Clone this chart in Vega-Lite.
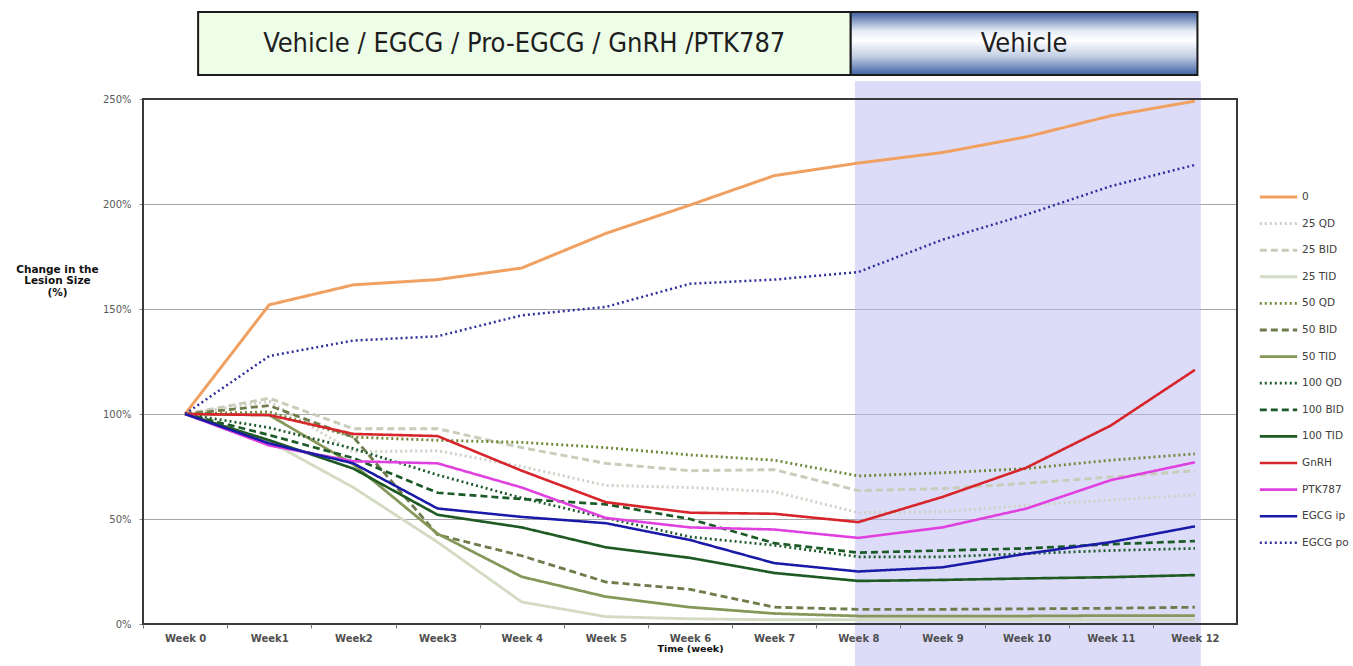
{
  "$schema": "https://vega.github.io/schema/vega-lite/v6.json",
  "autosize": {"type": "none"},
  "width": 1094,
  "height": 525,
  "padding": {"left": 143, "top": 99, "right": 116, "bottom": 42},
  "background": "white",
  "config": {
    "view": {"stroke": null},
    "legend": {"symbolType": "stroke"}
  },
  "datasets": {
    "shade": [{"x1": 7.96, "x2": 12.07, "y1": -20, "y2": 258.5}],
    "frame": [{"x1": -0.5, "x2": 12.5, "y1": 0, "y2": 250}],
    "boxA": [{"x1": 0.155, "x2": 7.91, "y1": 261.4, "y2": 291.4, "xc": 4.03, "yc": 276.4, "label": "Vehicle / EGCG / Pro-EGCG / GnRH /PTK787"}],
    "boxB": [{"x1": 7.91, "x2": 12.03, "y1": 261.4, "y2": 291.4, "xc": 9.97, "yc": 276.4, "label": "Vehicle"}],
    "lines": [
      {"series": "0", "week": 0, "value": 100}, {"series": "0", "week": 1, "value": 152}, {"series": "0", "week": 2, "value": 161.5}, {"series": "0", "week": 3, "value": 164}, {"series": "0", "week": 4, "value": 169.5}, {"series": "0", "week": 5, "value": 186}, {"series": "0", "week": 6, "value": 199.5}, {"series": "0", "week": 7, "value": 213.5}, {"series": "0", "week": 8, "value": 219.5}, {"series": "0", "week": 9, "value": 224.5}, {"series": "0", "week": 10, "value": 232}, {"series": "0", "week": 11, "value": 242}, {"series": "0", "week": 12, "value": 249},
      {"series": "25 QD", "week": 0, "value": 100}, {"series": "25 QD", "week": 1, "value": 106}, {"series": "25 QD", "week": 2, "value": 82}, {"series": "25 QD", "week": 3, "value": 82.5}, {"series": "25 QD", "week": 4, "value": 75}, {"series": "25 QD", "week": 5, "value": 66}, {"series": "25 QD", "week": 6, "value": 65}, {"series": "25 QD", "week": 7, "value": 63}, {"series": "25 QD", "week": 8, "value": 53}, {"series": "25 QD", "week": 9, "value": 53.5}, {"series": "25 QD", "week": 10, "value": 56.5}, {"series": "25 QD", "week": 11, "value": 59}, {"series": "25 QD", "week": 12, "value": 61.5},
      {"series": "25 BID", "week": 0, "value": 100}, {"series": "25 BID", "week": 1, "value": 107.5}, {"series": "25 BID", "week": 2, "value": 93}, {"series": "25 BID", "week": 3, "value": 93}, {"series": "25 BID", "week": 4, "value": 84}, {"series": "25 BID", "week": 5, "value": 76.5}, {"series": "25 BID", "week": 6, "value": 73}, {"series": "25 BID", "week": 7, "value": 73.5}, {"series": "25 BID", "week": 8, "value": 63.5}, {"series": "25 BID", "week": 9, "value": 64.5}, {"series": "25 BID", "week": 10, "value": 67}, {"series": "25 BID", "week": 11, "value": 70}, {"series": "25 BID", "week": 12, "value": 73},
      {"series": "25 TID", "week": 0, "value": 100}, {"series": "25 TID", "week": 1, "value": 87}, {"series": "25 TID", "week": 2, "value": 65}, {"series": "25 TID", "week": 3, "value": 39}, {"series": "25 TID", "week": 4, "value": 10.5}, {"series": "25 TID", "week": 5, "value": 3.5}, {"series": "25 TID", "week": 6, "value": 2.5}, {"series": "25 TID", "week": 7, "value": 2}, {"series": "25 TID", "week": 8, "value": 2}, {"series": "25 TID", "week": 9, "value": 2}, {"series": "25 TID", "week": 10, "value": 2}, {"series": "25 TID", "week": 11, "value": 2}, {"series": "25 TID", "week": 12, "value": 2},
      {"series": "50 QD", "week": 0, "value": 100}, {"series": "50 QD", "week": 1, "value": 101}, {"series": "50 QD", "week": 2, "value": 89}, {"series": "50 QD", "week": 3, "value": 87.5}, {"series": "50 QD", "week": 4, "value": 86.5}, {"series": "50 QD", "week": 5, "value": 84}, {"series": "50 QD", "week": 6, "value": 80.5}, {"series": "50 QD", "week": 7, "value": 78}, {"series": "50 QD", "week": 8, "value": 70.5}, {"series": "50 QD", "week": 9, "value": 72}, {"series": "50 QD", "week": 10, "value": 74}, {"series": "50 QD", "week": 11, "value": 78}, {"series": "50 QD", "week": 12, "value": 81},
      {"series": "50 BID", "week": 0, "value": 100}, {"series": "50 BID", "week": 1, "value": 104}, {"series": "50 BID", "week": 2, "value": 89}, {"series": "50 BID", "week": 3, "value": 42.5}, {"series": "50 BID", "week": 4, "value": 32.5}, {"series": "50 BID", "week": 5, "value": 20}, {"series": "50 BID", "week": 6, "value": 16.5}, {"series": "50 BID", "week": 7, "value": 8}, {"series": "50 BID", "week": 8, "value": 7}, {"series": "50 BID", "week": 9, "value": 7}, {"series": "50 BID", "week": 10, "value": 7.2}, {"series": "50 BID", "week": 11, "value": 7.5}, {"series": "50 BID", "week": 12, "value": 8},
      {"series": "50 TID", "week": 0, "value": 100}, {"series": "50 TID", "week": 1, "value": 99.5}, {"series": "50 TID", "week": 2, "value": 76}, {"series": "50 TID", "week": 3, "value": 43}, {"series": "50 TID", "week": 4, "value": 22.5}, {"series": "50 TID", "week": 5, "value": 13}, {"series": "50 TID", "week": 6, "value": 8}, {"series": "50 TID", "week": 7, "value": 5}, {"series": "50 TID", "week": 8, "value": 3.8}, {"series": "50 TID", "week": 9, "value": 3.8}, {"series": "50 TID", "week": 10, "value": 3.8}, {"series": "50 TID", "week": 11, "value": 4}, {"series": "50 TID", "week": 12, "value": 4},
      {"series": "100 QD", "week": 0, "value": 100}, {"series": "100 QD", "week": 1, "value": 93.5}, {"series": "100 QD", "week": 2, "value": 83.5}, {"series": "100 QD", "week": 3, "value": 71}, {"series": "100 QD", "week": 4, "value": 60}, {"series": "100 QD", "week": 5, "value": 50.5}, {"series": "100 QD", "week": 6, "value": 41.5}, {"series": "100 QD", "week": 7, "value": 37.5}, {"series": "100 QD", "week": 8, "value": 32}, {"series": "100 QD", "week": 9, "value": 32}, {"series": "100 QD", "week": 10, "value": 33.5}, {"series": "100 QD", "week": 11, "value": 35}, {"series": "100 QD", "week": 12, "value": 36},
      {"series": "100 BID", "week": 0, "value": 100}, {"series": "100 BID", "week": 1, "value": 90}, {"series": "100 BID", "week": 2, "value": 79}, {"series": "100 BID", "week": 3, "value": 62.5}, {"series": "100 BID", "week": 4, "value": 59.5}, {"series": "100 BID", "week": 5, "value": 57}, {"series": "100 BID", "week": 6, "value": 50}, {"series": "100 BID", "week": 7, "value": 38.5}, {"series": "100 BID", "week": 8, "value": 34}, {"series": "100 BID", "week": 9, "value": 35}, {"series": "100 BID", "week": 10, "value": 36}, {"series": "100 BID", "week": 11, "value": 38}, {"series": "100 BID", "week": 12, "value": 39.5},
      {"series": "100 TID", "week": 0, "value": 100}, {"series": "100 TID", "week": 1, "value": 87.5}, {"series": "100 TID", "week": 2, "value": 74}, {"series": "100 TID", "week": 3, "value": 52}, {"series": "100 TID", "week": 4, "value": 46}, {"series": "100 TID", "week": 5, "value": 36.5}, {"series": "100 TID", "week": 6, "value": 31.5}, {"series": "100 TID", "week": 7, "value": 24.3}, {"series": "100 TID", "week": 8, "value": 20.5}, {"series": "100 TID", "week": 9, "value": 21}, {"series": "100 TID", "week": 10, "value": 21.7}, {"series": "100 TID", "week": 11, "value": 22.3}, {"series": "100 TID", "week": 12, "value": 23.3},
      {"series": "GnRH", "week": 0, "value": 100}, {"series": "GnRH", "week": 1, "value": 99.5}, {"series": "GnRH", "week": 2, "value": 90.5}, {"series": "GnRH", "week": 3, "value": 89.5}, {"series": "GnRH", "week": 4, "value": 73}, {"series": "GnRH", "week": 5, "value": 58}, {"series": "GnRH", "week": 6, "value": 53}, {"series": "GnRH", "week": 7, "value": 52.5}, {"series": "GnRH", "week": 8, "value": 48.5}, {"series": "GnRH", "week": 9, "value": 60.5}, {"series": "GnRH", "week": 10, "value": 74.5}, {"series": "GnRH", "week": 11, "value": 94.5}, {"series": "GnRH", "week": 12, "value": 121},
      {"series": "PTK787", "week": 0, "value": 100}, {"series": "PTK787", "week": 1, "value": 85}, {"series": "PTK787", "week": 2, "value": 77.5}, {"series": "PTK787", "week": 3, "value": 76.5}, {"series": "PTK787", "week": 4, "value": 65}, {"series": "PTK787", "week": 5, "value": 50.5}, {"series": "PTK787", "week": 6, "value": 46}, {"series": "PTK787", "week": 7, "value": 45}, {"series": "PTK787", "week": 8, "value": 41}, {"series": "PTK787", "week": 9, "value": 46}, {"series": "PTK787", "week": 10, "value": 55}, {"series": "PTK787", "week": 11, "value": 68.5}, {"series": "PTK787", "week": 12, "value": 77},
      {"series": "EGCG ip", "week": 0, "value": 100}, {"series": "EGCG ip", "week": 1, "value": 86}, {"series": "EGCG ip", "week": 2, "value": 76.5}, {"series": "EGCG ip", "week": 3, "value": 55}, {"series": "EGCG ip", "week": 4, "value": 51}, {"series": "EGCG ip", "week": 5, "value": 48}, {"series": "EGCG ip", "week": 6, "value": 40}, {"series": "EGCG ip", "week": 7, "value": 29}, {"series": "EGCG ip", "week": 8, "value": 25}, {"series": "EGCG ip", "week": 9, "value": 27}, {"series": "EGCG ip", "week": 10, "value": 33.5}, {"series": "EGCG ip", "week": 11, "value": 39}, {"series": "EGCG ip", "week": 12, "value": 46.5},
      {"series": "EGCG po", "week": 0, "value": 100}, {"series": "EGCG po", "week": 1, "value": 127.6}, {"series": "EGCG po", "week": 2, "value": 135}, {"series": "EGCG po", "week": 3, "value": 137}, {"series": "EGCG po", "week": 4, "value": 147}, {"series": "EGCG po", "week": 5, "value": 151}, {"series": "EGCG po", "week": 6, "value": 162}, {"series": "EGCG po", "week": 7, "value": 164}, {"series": "EGCG po", "week": 8, "value": 167.6}, {"series": "EGCG po", "week": 9, "value": 183}, {"series": "EGCG po", "week": 10, "value": 195}, {"series": "EGCG po", "week": 11, "value": 208.5}, {"series": "EGCG po", "week": 12, "value": 218.6}
    ]
  },
  "layer": [
    {
      "data": {"name": "shade"},
      "mark": {"type": "rect", "fill": "#b9b9f1", "opacity": 0.5},
      "encoding": {
        "x": {"field": "x1", "type": "quantitative",
          "scale": {"domain": [-0.5, 12.5], "nice": false, "zero": false},
          "axis": {"values": [0,1,2,3,4,5,6,7,8,9,10,11,12], "zindex": 1, "grid": false, "domain": false,
            "labelExpr": "(datum.value >= 1 && datum.value <= 3) ? 'Week' + datum.value : 'Week ' + datum.value",
            "labelFont": "DejaVu Sans", "labelFontSize": 10, "labelFontWeight": "bold", "labelColor": "#505050",
            "tickSize": 4, "tickColor": "#777777", "tickOffset": -42, "labelOffset": 42, "labelPadding": 5,
            "title": "Time (week)", "titleFont": "DejaVu Sans", "titleFontSize": 9.5, "titleFontWeight": "bold", "titleColor": "#111111", "titlePadding": 0}},
        "x2": {"field": "x2"},
        "y": {"field": "y1", "type": "quantitative",
          "scale": {"domain": [0, 250], "nice": false},
          "axis": {"values": [0,50,100,150,200,250], "labelExpr": "datum.value + '%'", "domain": false,
            "grid": true, "gridColor": "#a6a6a6", "gridWidth": 1,
            "labelFont": "DejaVu Sans", "labelFontSize": 10, "labelColor": "#5a5a5a", "labelPadding": 8,
            "tickSize": 4, "tickColor": "#888888",
            "title": ["Change in the", "Lesion Size", "(%)"], "titleAngle": 0, "titleX": -86, "titleY": 165,
            "titleAlign": "center", "titleBaseline": "top", "titleFont": "DejaVu Sans", "titleFontSize": 10.5, "titleFontWeight": "bold", "titleColor": "#111111", "titleLineHeight": 11.5}},
        "y2": {"field": "y2"}
      }
    },
    {
      "data": {"name": "boxA"},
      "mark": {"type": "rect", "fill": "#eefde8", "stroke": "#1a1a1a", "strokeWidth": 2},
      "encoding": {
        "x": {"field": "x1", "type": "quantitative"},
        "x2": {"field": "x2"},
        "y": {"field": "y1", "type": "quantitative"},
        "y2": {"field": "y2"}
      }
    },
    {
      "data": {"name": "boxB"},
      "mark": {"type": "rect", "stroke": "#1a1a1a", "strokeWidth": 2,
        "fill": {"gradient": "linear", "x1": 0, "y1": 0, "x2": 0, "y2": 1,
          "stops": [{"offset": 0, "color": "#3c5f9f"}, {"offset": 0.3, "color": "#e6ebf5"}, {"offset": 0.45, "color": "#ffffff"}, {"offset": 0.7, "color": "#c3cfe5"}, {"offset": 1, "color": "#3f62a3"}]}},
      "encoding": {
        "x": {"field": "x1", "type": "quantitative"},
        "x2": {"field": "x2"},
        "y": {"field": "y1", "type": "quantitative"},
        "y2": {"field": "y2"}
      }
    },
    {
      "data": {"name": "boxA"},
      "mark": {"type": "text", "font": "Liberation Sans Narrow, DejaVu Sans Condensed, Lato", "fontSize": 27, "color": "#1e1e1e", "baseline": "middle", "align": "center"},
      "encoding": {
        "x": {"field": "xc", "type": "quantitative"},
        "y": {"field": "yc", "type": "quantitative"},
        "text": {"field": "label"}
      }
    },
    {
      "data": {"name": "boxB"},
      "mark": {"type": "text", "font": "Liberation Sans Narrow, DejaVu Sans Condensed, Lato", "fontSize": 27, "color": "#1e1e1e", "baseline": "middle", "align": "center"},
      "encoding": {
        "x": {"field": "xc", "type": "quantitative"},
        "y": {"field": "yc", "type": "quantitative"},
        "text": {"field": "label"}
      }
    },
    {
      "data": {"name": "lines"},
      "mark": {"type": "line"},
      "encoding": {
        "x": {"field": "week", "type": "quantitative"},
        "y": {"field": "value", "type": "quantitative"},
        "color": {"field": "series", "type": "nominal", "title": null,
          "scale": {
            "domain": ["0","25 QD","25 BID","25 TID","50 QD","50 BID","50 TID","100 QD","100 BID","100 TID","GnRH","PTK787","EGCG ip","EGCG po"],
            "range": ["#f0a060","#cdd1c6","#c8ccb8","#d3dbc3","#6f8a3a","#6e7c4c","#86975a","#1d5a2c","#1c5a28","#1f5a23","#d7262b","#e040e0","#1a1aa8","#2f2f9c"]},
          "legend": {"orient": "none", "legendX": 1115, "legendY": 88, "symbolType": "stroke", "symbolSize": 1400,
            "clipHeight": 20, "rowPadding": 6.6, "labelFont": "DejaVu Sans", "labelFontSize": 10.5, "labelColor": "#404040", "labelOffset": 3, "symbolOffset": 0}},
        "strokeDash": {"field": "series", "type": "nominal", "title": null,
          "scale": {
            "domain": ["0","25 QD","25 BID","25 TID","50 QD","50 BID","50 TID","100 QD","100 BID","100 TID","GnRH","PTK787","EGCG ip","EGCG po"],
            "range": [[1,0],[2,3],[7,4],[1,0],[2,3],[7,4],[1,0],[2,3],[7,4],[1,0],[1,0],[1,0],[1,0],[2,3]]}},
        "strokeWidth": {"field": "series", "type": "nominal", "title": null,
          "scale": {
            "domain": ["0","25 QD","25 BID","25 TID","50 QD","50 BID","50 TID","100 QD","100 BID","100 TID","GnRH","PTK787","EGCG ip","EGCG po"],
            "range": [3,2.5,2.5,2.5,3,3,3,3.5,3.5,3.5,3.5,3.5,3.5,3]}}
      }
    },
    {
      "data": {"name": "frame"},
      "mark": {"type": "rect", "fill": null, "stroke": "#3a3a3a", "strokeWidth": 2},
      "encoding": {
        "x": {"field": "x1", "type": "quantitative"},
        "x2": {"field": "x2"},
        "y": {"field": "y1", "type": "quantitative"},
        "y2": {"field": "y2"}
      }
    }
  ]
}
